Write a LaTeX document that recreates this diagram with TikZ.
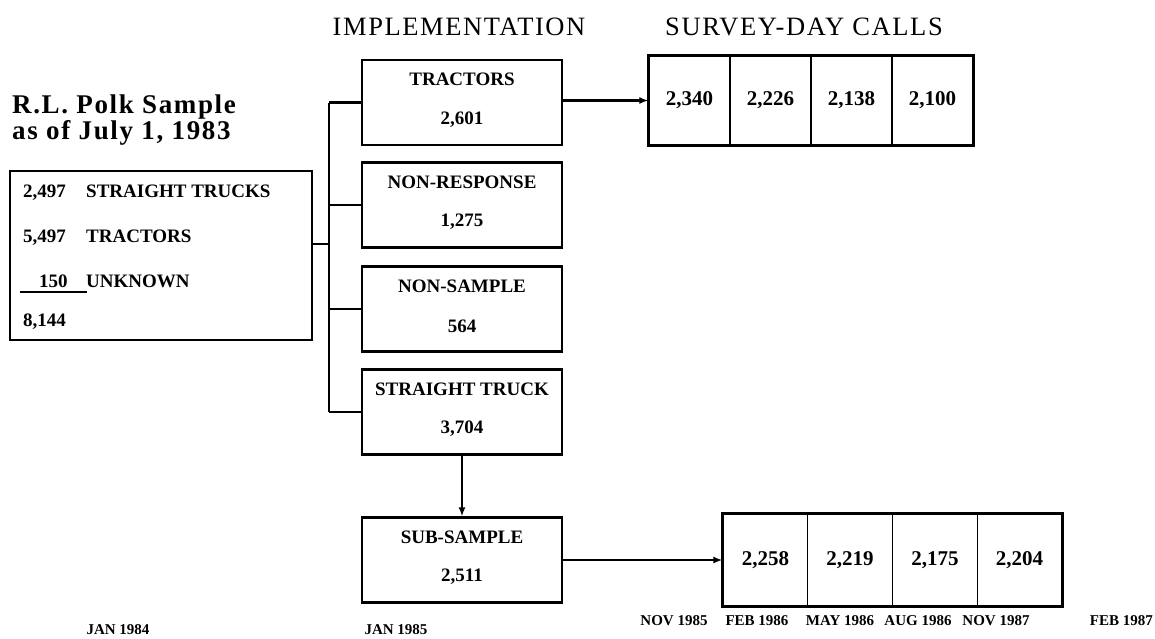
\documentclass[tikz,border=0pt]{standalone}
\usepackage{fontspec}
\setmainfont{Liberation Serif}
\newfontfamily\widefont[LetterSpace=6]{Liberation Serif}
\usetikzlibrary{arrows.meta}

\begin{document}
\begin{tikzpicture}[x=1pt,y=-1pt,
 box/.style={draw, line width=2.2pt, minimum width=200pt, minimum height=85pt, inner sep=0pt},
 cell/.style={draw, line width=1.2pt, inner sep=0pt, font=\bfseries\fontsize{21}{24}\selectfont},
 txt/.style={font=\bfseries\fontsize{19}{22}\selectfont, inner sep=0pt},
 date/.style={font=\bfseries\fontsize{15}{17}\selectfont, inner sep=0pt},
 head/.style={font=\widefont\fontsize{26.5}{28}\selectfont, inner sep=0pt},
 titl/.style={font=\widefont\bfseries\fontsize{27}{28}\selectfont, inner sep=0pt},
 wire/.style={line width=2.4pt},
 arr/.style={line width=2.4pt, -{Latex[length=9pt,width=7pt]}}]
\useasboundingbox (0,0) rectangle (1155,638);

 % headings
 \path (12,113) node(title1)[anchor=base west, titl]{R.L. Polk Sample};
 \path (12,139) node(title2)[anchor=base west, titl]{as of July 1, 1983};
 \path (459,35) node(hImpl)[anchor=base, head]{IMPLEMENTATION};
 \path (665,35) node(hSurv)[anchor=base west, head]{SURVEY-DAY CALLS};

 % sample box
 \node[box, minimum width=302pt, minimum height=169pt] (polk) at (161,255.5) {};
 \path (23,197) node(n1)[anchor=base west, txt]{2,497};
 \path (86,197) node(l1)[anchor=base west, txt]{STRAIGHT TRUCKS};
 \path (23,242) node(n2)[anchor=base west, txt]{5,497};
 \path (86,242) node(l2)[anchor=base west, txt]{TRACTORS};
 \path (39,287) node(n3)[anchor=base west, txt]{150};
 \path (86,287) node(l3)[anchor=base west, txt]{UNKNOWN};
 \draw[wire] (20,292) -- (87,292);
 \path (23,326) node(n4)[anchor=base west, txt]{8,144};

 % implementation
 \node[box] (tract) at (462,102.5) {};
 \path (tract.center) ++(0,-23) node(tractL)[txt]{TRACTORS} ++(0,40) node(tractN)[txt]{2,601};
 \node[box] (nresp) at (462,205) {};
 \path (nresp.center) ++(0,-23) node(nrespL)[txt]{NON-RESPONSE} ++(0,40) node(nrespN)[txt]{1,275};
 \node[box] (nsamp) at (462,309) {};
 \path (nsamp.center) ++(0,-23) node(nsampL)[txt]{NON-SAMPLE} ++(0,40) node(nsampN)[txt]{564};
 \node[box] (strt) at (462,412) {};
 \path (strt.center) ++(0,-23) node(strtL)[txt]{STRAIGHT TRUCK} ++(0,40) node(strtN)[txt]{3,704};
 \node[box] (subs) at (462,560) {};
 \path (subs.center) ++(0,-23) node(subsL)[txt]{SUB-SAMPLE} ++(0,40) node(subsN)[txt]{2,511};

 \coordinate (jn) at (329,244);
 \draw[wire] (polk.east |- jn) -- (jn);
 \draw[wire] (jn |- tract.west) -- (jn |- strt.west);
 \foreach \b in {tract,nresp,nsamp,strt}
   \draw[wire] (jn |- \b.west) -- (\b.west);
 \draw[arr] (strt.south) -- (subs.north);

 % survey-day calls
 \node[cell, minimum width=81pt, minimum height=89pt] (t1) at (689.5,100.5) {2,340};
 \node[cell, minimum width=81pt, minimum height=89pt] (t2) at (770.5,100.5) {2,226};
 \node[cell, minimum width=81pt, minimum height=89pt] (t3) at (851.5,100.5) {2,138};
 \node[cell, minimum width=81pt, minimum height=89pt] (t4) at (932.5,100.5) {2,100};
 \draw[wire] (t1.north west) rectangle (t4.south east);
 \draw[arr] (tract.east |- t1.west) -- (t1.west);

 \node[cell, minimum width=84.75pt, minimum height=92pt] (b1) at (765.4,560) {2,258};
 \node[cell, minimum width=84.75pt, minimum height=92pt] (b2) at (850.1,560) {2,219};
 \node[cell, minimum width=84.75pt, minimum height=92pt] (b3) at (934.9,560) {2,175};
 \node[cell, minimum width=84.75pt, minimum height=92pt] (b4) at (1019.6,560) {2,204};
 \draw[wire] (b1.north west) rectangle (b4.south east);
 \draw[arr] (subs.east |- b1.west) -- (b1.west);

 % dates
 \path (118,630) node(d1)[date]{JAN 1984};
 \path (396,630) node(d2)[date]{JAN 1985};
 \path (674,621) node(d3)[date]{NOV 1985};
 \path (757,621) node(d4)[date]{FEB 1986};
 \path (840,621) node(d5)[date]{MAY 1986};
 \path (918,621) node(d6)[date]{AUG 1986};
 \path (996,621) node(d7)[date]{NOV 1987};
 \path (1153,621) node(d8)[anchor=east, date]{FEB 1987};
\end{tikzpicture}
\end{document}
